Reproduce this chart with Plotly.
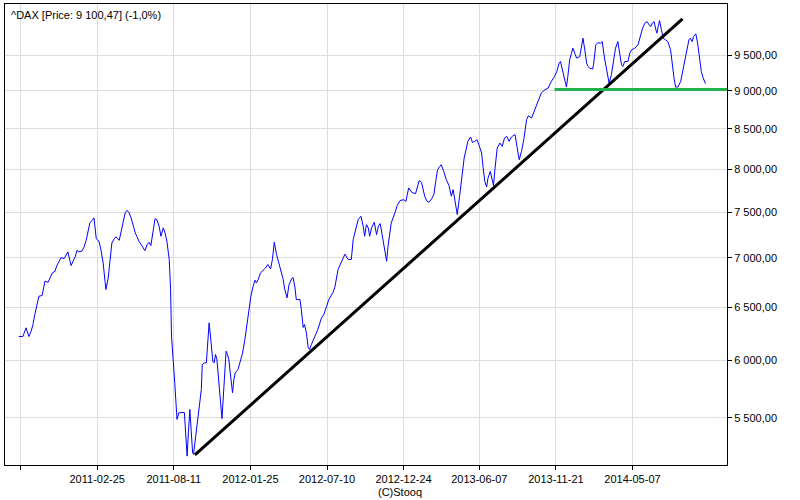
import math
import pandas as pd
import plotly.graph_objects as go

start_date = "2010-09-07"
day_offset = [0, 9, 16, 22, 27, 31, 35, 40, 44, 51, 55, 57, 64, 68, 73, 79, 83, 88, 92, 99,
              103, 107, 114, 118, 123, 127, 131, 138, 142, 147, 151, 155, 160, 164, 169, 175, 179, 184, 188, 190,
              195, 199, 203, 208, 212, 219, 223, 227, 232, 236, 240, 245, 249, 254, 258, 262, 267, 271, 275, 280,
              284, 288, 293, 297, 301, 306, 310, 315, 319, 323, 328, 331, 333, 336, 340, 345, 349, 361, 364, 367,
              370, 373, 376, 379, 381, 387, 391, 395, 398, 400, 405, 409, 412, 415, 418, 420, 423, 426, 429, 432,
              434, 437, 440, 443, 446, 449, 452, 455, 458, 461, 464, 466, 469, 472, 478, 482, 488, 493, 498, 502,
              506, 511, 515, 518, 522, 527, 533, 538, 543, 549, 553, 557, 562, 567, 572, 576, 580, 585, 589, 595,
              598, 602, 605, 613, 616, 620, 623, 627, 631, 634, 638, 645, 652, 660, 665, 671, 676, 685, 689, 696,
              703, 711, 718, 725, 729, 735, 740, 746, 751, 754, 758, 762, 765, 769, 775, 780, 784, 788, 793, 798,
              802, 805, 809, 812, 820, 825, 831, 839, 844, 846, 850, 855, 860, 865, 870, 873, 878, 881, 885, 890,
              894, 900, 905, 909, 913, 918, 921, 926, 932, 938, 943, 947, 950, 954, 956, 961, 967, 971, 976, 979,
              985, 989, 994, 999, 1003, 1009, 1012, 1016, 1020, 1023, 1028, 1033, 1035, 1038, 1043, 1049, 1054, 1059, 1064, 1069,
              1074, 1078, 1082, 1086, 1091, 1096, 1101, 1107, 1111, 1118, 1125, 1132, 1139, 1147, 1154, 1161, 1168, 1173, 1178, 1181,
              1185, 1190, 1194, 1197, 1201, 1205, 1208, 1212, 1216, 1223, 1227, 1230, 1234, 1238, 1241, 1245, 1251, 1253, 1258, 1263,
              1268, 1272, 1277, 1282, 1287, 1292, 1297, 1301, 1306, 1310, 1314, 1317, 1321, 1328, 1332, 1336, 1343, 1350, 1355, 1360,
              1365, 1370, 1374, 1378, 1381, 1385, 1389, 1391, 1394, 1397, 1401, 1405, 1410, 1415, 1421, 1425, 1429, 1432, 1437, 1443,
              1447, 1452, 1457, 1461, 1464, 1468, 1471, 1476, 1480, 1485, 1488, 1492, 1497]
close = [6218, 6218, 6300, 6218, 6268, 6331, 6427, 6525, 6607, 6614, 6724, 6758, 6747, 6792, 6843, 6860, 6919, 6964, 7003, 6992,
         7027, 7063, 6919, 6954, 7010, 7080, 7063, 7073, 7112, 7187, 7267, 7378, 7407, 7434, 7203, 7177, 7087, 6947, 6758, 6674,
         6792, 6982, 7159, 7203, 7225, 7187, 7274, 7396, 7490, 7519, 7496, 7434, 7359, 7267, 7225, 7177, 7141, 7105, 7076, 7141,
         7166, 7130, 7285, 7423, 7415, 7341, 7231, 7323, 7267, 7177, 6982, 6674, 6221, 6052, 5802, 5488, 5543, 5546, 5352, 5193,
         5392, 5571, 5392, 5220, 5207, 5406, 5515, 5627, 5741, 5961, 5976, 5976, 6221, 6347, 6221, 6128, 5991, 5976, 6052, 6006,
         5888, 5741, 5627, 5494, 5655, 5857, 6082, 6052, 6006, 5888, 5770, 5713, 5828, 5888, 5917, 5976, 6067, 6190, 6347, 6476,
         6607, 6707, 6768, 6741, 6775, 6843, 6870, 6894, 6929, 6884, 6982, 7166, 7035, 6947, 6843, 6785, 6674, 6591, 6719, 6785,
         6795, 6699, 6574, 6574, 6476, 6303, 6331, 6253, 6113, 6098, 6144, 6206, 6284, 6395, 6427, 6505, 6574, 6644, 6694, 6877,
         6961, 7039, 6982, 6982, 7195, 7323, 7415, 7452, 7341, 7231, 7359, 7323, 7231, 7323, 7385, 7249, 7341, 7371, 7231, 7087,
         6964, 7123, 7304, 7378, 7490, 7573, 7630, 7641, 7622, 7680, 7777, 7737, 7718, 7710, 7804, 7863, 7843, 7777, 7680, 7622,
         7610, 7649, 7699, 7855, 7994, 8034, 8054, 7982, 7875, 7804, 7680, 7757, 7660, 7527, 7471, 7680, 7934, 8136, 8259, 8342,
         8397, 8329, 8342, 8363, 8300, 8197, 8034, 7855, 7789, 7895, 7974, 7875, 7804, 7994, 8259, 8321, 8279, 8384, 8405, 8342,
         8397, 8414, 8427, 8279, 8115, 8217, 8363, 8618, 8670, 8640, 8749, 8858, 8971, 9016, 9039, 9129, 9198, 9268, 9385, 9408,
         9291, 9129, 9053, 9198, 9432, 9527, 9599, 9527, 9456, 9479, 9622, 9744, 9575, 9385, 9338, 9314, 9301, 9361, 9647, 9680,
         9671, 9695, 9456, 9268, 9106, 9222, 9408, 9599, 9695, 9551, 9361, 9338, 9408, 9408, 9527, 9575, 9599, 9647, 9768, 9892,
         9967, 9991, 9942, 9917, 9967, 9991, 9867, 9818, 9917, 10006, 9867, 9744, 9720, 9695, 9575, 9338, 9152, 9053, 9053, 9129,
         9268, 9432, 9575, 9720, 9744, 9695, 9768, 9809, 9671, 9456, 9268, 9180, 9100.47]

trend_days = [384, 1447]
trend_values = [5203, 10030]
support_days = [1168, 1548]
support_values = [9020, 9020]

x_tick_dates = ["2010-09-10", "2011-02-25", "2011-08-11", "2012-01-25", "2012-07-10",
                "2012-12-24", "2013-06-07", "2013-11-21", "2014-05-07"]
x_tick_labels = ["", "2011-02-25", "2011-08-11", "2012-01-25", "2012-07-10",
                 "2012-12-24", "2013-06-07", "2013-11-21", "2014-05-07"]
y_tick_values = [5500, 6000, 6500, 7000, 7500, 8000, 8500, 9000, 9500]
y_tick_labels = ["5 500,00", "6 000,00", "6 500,00", "7 000,00", "7 500,00",
                 "8 000,00", "8 500,00", "9 000,00", "9 500,00"]
title_text = "^DAX [Price: 9 100,47] (-1,0%)"
credit_text = "(C)Stooq"

t0 = pd.Timestamp(start_date)
def to_dates(days):
    return [t0 + pd.Timedelta(days=d) for d in days]

FONT = "Liberation Sans, Arial, sans-serif"

fig = go.Figure()
fig.add_trace(go.Scatter(x=to_dates(day_offset), y=close, mode="lines",
                         line=dict(color="#0000ff", width=1), hoverinfo="skip"))
fig.add_trace(go.Scatter(x=to_dates(trend_days), y=trend_values, mode="lines",
                         line=dict(color="#000000", width=3), hoverinfo="skip"))
fig.add_trace(go.Scatter(x=to_dates(support_days), y=support_values, mode="lines",
                         line=dict(color="#22b14c", width=3), hoverinfo="skip", cliponaxis=False))

fig.update_layout(
    width=800, height=500,
    margin=dict(l=5, r=73, t=4, b=35),
    paper_bgcolor="white", plot_bgcolor="white",
    showlegend=False,
    font=dict(family=FONT, size=11, color="#000000"),
    xaxis=dict(
        range=[t0 + pd.Timedelta(days=-30), t0 + pd.Timedelta(days=1544)],
        tickvals=x_tick_dates, ticktext=x_tick_labels,
        showgrid=True, gridcolor="#dcdcdc", gridwidth=1,
        ticks="outside", ticklen=4, tickcolor="#000000",
        showline=True, linecolor="#000000", linewidth=1, mirror=True,
        zeroline=False, tickfont=dict(family=FONT, size=11, color="#000000"),
    ),
    yaxis=dict(
        type="log", side="right",
        range=[math.log10(5124), math.log10(10259)],
        tickvals=y_tick_values, ticktext=y_tick_labels,
        showgrid=True, gridcolor="#dcdcdc", gridwidth=1,
        ticks="outside", ticklen=4, tickcolor="#000000",
        showline=True, linecolor="#000000", linewidth=1, mirror=True,
        zeroline=False, tickfont=dict(family=FONT, size=11, color="#000000"),
    ),
    annotations=[
        dict(text=title_text, xref="paper", yref="paper", x=0, y=1, xanchor="left", yanchor="top",
             xshift=4, yshift=-3, showarrow=False, font=dict(family=FONT, size=11, color="#000000")),
        dict(text=credit_text, xref="paper", yref="paper", x=395 / 722, y=0, xanchor="center",
             yanchor="middle", yshift=-27, showarrow=False, font=dict(family=FONT, size=11, color="#000000")),
    ],
)

fig.write_html("out.html", config={"displayModeBar": False},
               post_script="document.body.style.margin='0';document.body.style.padding='0';")
